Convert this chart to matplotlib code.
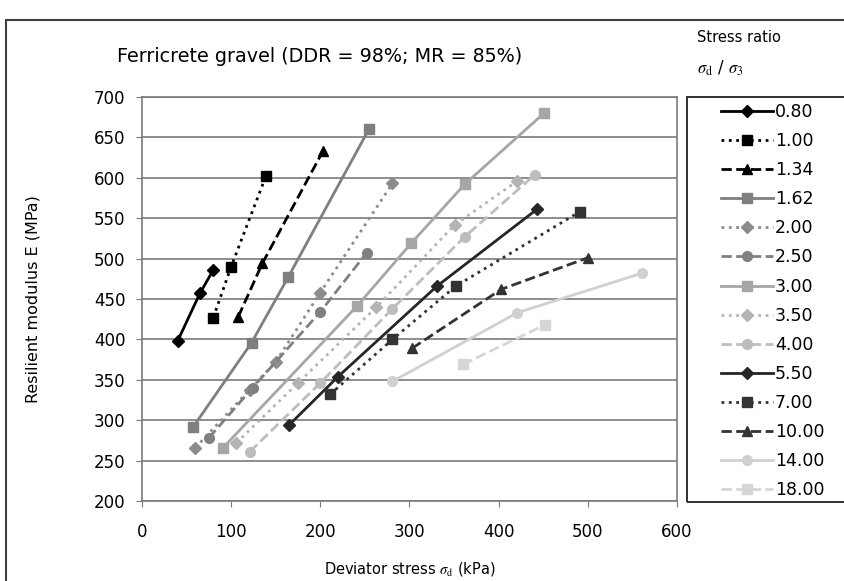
import matplotlib
matplotlib.use('Agg')
import matplotlib.pyplot as plt
from matplotlib.patches import Rectangle

plt.rcParams['font.family'] = ['DejaVu Sans']
plt.rcParams['mathtext.fontset'] = 'stix'

# stress ratios and their measured points (deviator stress kPa, modulus MPa)
labels = ['0.80', '1.00', '1.34', '1.62', '2.00', '2.50', '3.00',
          '3.50', '4.00', '5.50', '7.00', '10.00', '14.00', '18.00']
x_080 = [40, 65, 80]
y_080 = [398, 457, 486]
x_100 = [80, 100, 139]
y_100 = [427, 490, 602]
x_134 = [108, 135, 203]
y_134 = [428, 494, 633]
x_162 = [57, 123, 164, 255]
y_162 = [291, 396, 477, 661]
x_200 = [60, 121, 150, 200, 281]
y_200 = [266, 338, 372, 458, 593]
x_250 = [75, 124, 200, 252]
y_250 = [278, 340, 434, 507]
x_300 = [91, 241, 302, 362, 451]
y_300 = [266, 441, 519, 592, 680]
x_350 = [106, 175, 263, 351, 421]
y_350 = [272, 346, 440, 542, 596]
x_400 = [121, 200, 281, 362, 441]
y_400 = [261, 346, 438, 527, 604]
x_550 = [165, 220, 331, 443]
y_550 = [294, 354, 466, 561]
x_700 = [211, 281, 352, 491]
y_700 = [332, 400, 466, 558]
x_1000 = [303, 403, 500]
y_1000 = [389, 462, 501]
x_1400 = [281, 421, 561]
y_1400 = [348, 433, 482]
x_1800 = [360, 452]
y_1800 = [369, 418]

xs = [x_080, x_100, x_134, x_162, x_200, x_250, x_300, x_350, x_400,
      x_550, x_700, x_1000, x_1400, x_1800]
ys = [y_080, y_100, y_134, y_162, y_200, y_250, y_300, y_350, y_400,
      y_550, y_700, y_1000, y_1400, y_1800]

# colour, linestyle, marker
styles = [
    ('#000000', '-', 'D'),
    ('#000000', ':', 's'),
    ('#000000', '--', '^'),
    ('#7f7f7f', '-', 's'),
    ('#8c8c8c', ':', 'D'),
    ('#808080', '--', 'o'),
    ('#a6a6a6', '-', 's'),
    ('#b4b4b4', ':', 'D'),
    ('#bdbdbd', '--', 'o'),
    ('#262626', '-', 'D'),
    ('#333333', ':', 's'),
    ('#333333', '--', '^'),
    ('#d0d0d0', '-', 'o'),
    ('#d6d6d6', '--', 's'),
]

fig = plt.figure(figsize=(8.45, 5.81), dpi=100)
ax = fig.add_axes([0.168, 0.1377, 0.633, 0.6953])

handles = []
for x, y, lab, (c, ls, m) in zip(xs, ys, labels, styles):
    ms = 6 if m == 'D' else 7
    h, = ax.plot(x, y, color=c, linestyle=ls, marker=m, markersize=ms,
                 linewidth=2, label=lab)
    handles.append(h)

ax.set_xlim(0, 600)
ax.set_ylim(200, 700)
ax.set_xticks(range(0, 601, 100))
ax.set_yticks(range(200, 701, 50))
ax.yaxis.grid(True, color='#7a7a7a', linewidth=1.2)
ax.set_axisbelow(True)
for s in ax.spines.values():
    s.set_color('#7a7a7a')
    s.set_linewidth(1.2)
ax.tick_params(labelsize=12, length=4, color='#7a7a7a')
ax.tick_params(axis='x', pad=12)
ax.tick_params(axis='y', pad=8)
ax.set_xlabel(r'Deviator stress $\sigma_{\mathrm{d}}$ (kPa)', fontsize=10.5)
ax.set_ylabel('Resilient modulus E (MPa)', fontsize=11.5)
ax.xaxis.set_label_coords(0.5, -0.145)
ax.yaxis.set_label_coords(-0.19, 0.5)

fig.text(117 / 845, 1 - 57 / 581, 'Ferricrete gravel (DDR = 98%; MR = 85%)',
         fontsize=13.8, va='center', ha='left')
fig.text(697 / 845, 1 - 38 / 581, 'Stress ratio', fontsize=10.5, va='center')
fig.text(697 / 845, 1 - 68 / 581, r'$\sigma_{\mathrm{d}}$ / $\sigma_3$',
         fontsize=12, va='center')

# outer chart frame and legend box
fig.patches.append(Rectangle((6 / 845, -0.05), 1.1, 1 - 20 / 581 + 0.05,
                             transform=fig.transFigure, fill=False,
                             edgecolor='#404040', linewidth=1.5))
fig.patches.append(Rectangle((687 / 845, 1 - 502 / 581), 0.3, (502 - 97) / 581,
                             transform=fig.transFigure, fill=False,
                             edgecolor='#202020', linewidth=1.3))

fig.legend(handles=handles, loc='upper left',
           bbox_to_anchor=(714 / 845, 1 - 96 / 581), frameon=False,
           fontsize=12.5, handlelength=3.0, handletextpad=0.1,
           labelspacing=0.64, borderaxespad=0)

fig.savefig('out.png', dpi=100)
